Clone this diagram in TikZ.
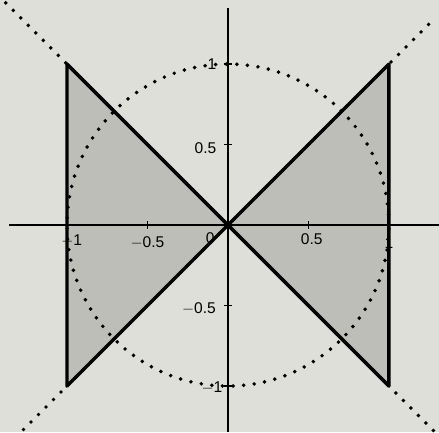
\documentclass[tikz,border=0pt]{standalone}
\usepackage{fontspec}
\setmainfont{Liberation Sans}
\usepackage{xcolor}
\usepackage{tikz}
\definecolor{paper}{HTML}{DFDFD9}
\definecolor{wedgegray}{HTML}{BEBEB8}

\begin{document}
\begin{tikzpicture}[x=4cm, y=4cm,
        dotline/.style={line width=2.8pt, line cap=round, dash pattern=on 0pt off 7.5pt},
        lbl/.style={font=\fontsize{11}{13}\selectfont, inner sep=1pt}]
        \fill[paper] (-1.416,-1.286) rectangle (1.311,1.398);
        \useasboundingbox (-1.416,-1.286) rectangle (1.311,1.398);
        % shaded wedges
        \fill[wedgegray] (0,0) -- (-1,1) -- (-1,-1) -- cycle;
        \fill[wedgegray] (0,0) -- (1,1) -- (1,-1) -- cycle;
        % axes and ticks
        \draw[line width=1.4pt] (-1.36,0) -- (1.311,0);
        \draw[line width=1.4pt] (0,-1.286) -- (0,1.35);
        \foreach \t in {-1,-0.5,0.5,1} {
            \draw[line width=1.2pt] (\t,-0.025) -- (\t,0.025);
            \draw[line width=1.2pt] (-0.025,\t) -- (0.025,\t);
        }
        % unit circle and diagonals
        \draw[dotline] (0,0) circle (1);
        \draw[dotline] (-1.38,1.38) -- (1.28,-1.28);
        \draw[dotline] (-1.27,-1.27) -- (1.29,1.29);
        % tick labels
        \node[lbl] (xm1) at (-0.97,-0.095) {$-$1};
        \node[lbl] (xmh) at (-0.50,-0.11) {$-$0.5};
        \node[lbl] (x0)  at (-0.11,-0.08) {0};
        \node[lbl] (xph) at (0.52,-0.09) {0.5};
        \node[lbl] (xp1) at (1.0,-0.11) {1};
        \node[lbl] (yp1) at (-0.10,1.0) {1};
        \node[lbl] (yph) at (-0.14,0.48) {0.5};
        \node[lbl] (ymh) at (-0.18,-0.52) {$-$0.5};
        \node[lbl] (ym1) at (-0.10,-1.01) {$-$1};
        % wedge outlines
        \draw[line width=2.4pt, line join=round] (0,0) -- (-1,1) -- (-1,-1) -- cycle;
        \draw[line width=2.4pt, line join=round] (0,0) -- (1,1) -- (1,-1) -- cycle;
    \end{tikzpicture}
\end{document}
